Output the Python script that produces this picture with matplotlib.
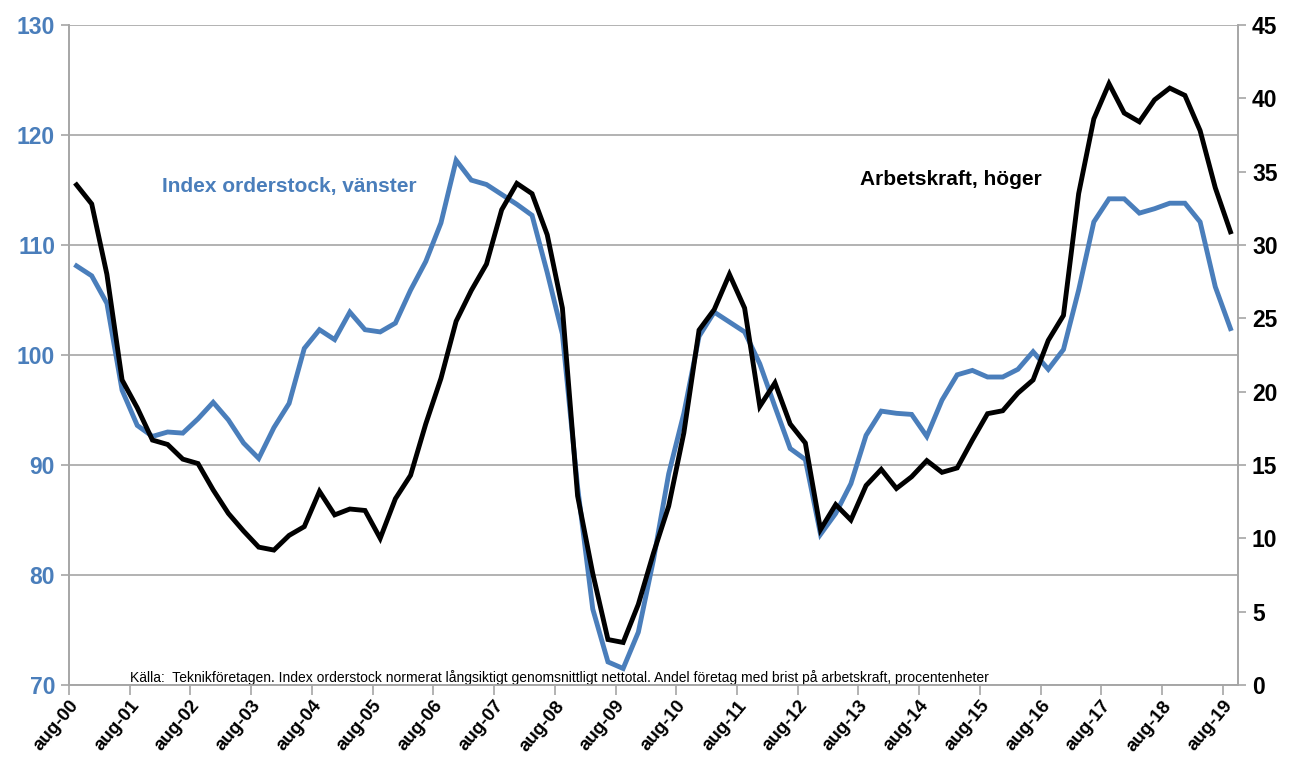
import matplotlib
matplotlib.use("Agg")
import matplotlib.pyplot as plt
import numpy as np

plt.rcParams['font.family'] = ['Liberation Sans', 'DejaVu Sans']

# kvartalsdata aug-00 .. aug-19
orderstock = [108.1, 107.2, 104.7, 96.8, 93.6, 92.6, 93.0, 92.9, 94.2, 95.7, 94.1, 92.0, 90.6,
              93.4, 95.6, 100.6, 102.3, 101.4, 103.9, 102.3, 102.1, 102.9, 105.9, 108.5, 112.0, 117.7,
              115.9, 115.5, 114.6, 113.7, 112.7, 107.5, 101.9, 88.0, 76.9, 72.1, 71.5, 74.8,
              81.4, 89.2, 94.7, 101.7, 103.9, 103.0, 102.1, 99.2, 95.3, 91.5, 90.5, 83.7, 85.6,
              88.3, 92.7, 94.9, 94.7, 94.6, 92.6, 95.9, 98.2, 98.6, 98.0, 98.0, 98.7, 100.3,
              98.7, 100.5, 105.9, 112.1, 114.2, 114.2, 112.9, 113.3, 113.8, 113.8, 112.1, 106.2, 102.4]
arbetskraft = [34.1, 32.8, 28.0, 20.8, 18.9, 16.7, 16.4, 15.4, 15.1, 13.3, 11.7, 10.5, 9.4,
               9.2, 10.2, 10.8, 13.2, 11.6, 12.0, 11.9, 10.0, 12.7, 14.3, 17.8, 20.9, 24.8,
               26.9, 28.7, 32.4, 34.2, 33.5, 30.7, 25.7, 12.9, 7.6, 3.1, 2.9, 5.5,
               9.0, 12.2, 17.2, 24.2, 25.6, 28.0, 25.7, 19.0, 20.6, 17.8, 16.5, 10.6, 12.3,
               11.25, 13.6, 14.7, 13.4, 14.2, 15.3, 14.5, 14.8, 16.7, 18.5, 18.7, 19.9, 20.8,
               23.5, 25.2, 33.5, 38.6, 41.0, 39.0, 38.4, 39.9, 40.7, 40.2, 37.8, 33.9, 30.9]
year_labels = ["aug-%02d" % y for y in range(0, 20)]

blue = '#4A7EBB'
grid_c = '#A6A6A6'

fig = plt.figure(figsize=(12.91, 7.58), dpi=100)
ax = fig.add_axes([0.0534, 0.0963, 0.9056, 0.8707])
ax2 = ax.twinx()

x = np.arange(len(orderstock))
ax.plot(x, orderstock, color=blue, lw=3.5, solid_joinstyle='miter', zorder=3)
ax2.plot(x, arbetskraft, color='black', lw=3.5, solid_joinstyle='miter', zorder=3)

ax.set_xlim(-0.5, len(orderstock) - 0.5)
ax.set_ylim(70, 130)
ax2.set_ylim(0, 45)
ax.set_yticks(range(70, 131, 10))
ax2.set_yticks(range(0, 46, 5))
ax.yaxis.grid(True, color=grid_c, lw=1.2)
ax.set_axisbelow(True)

ax.set_xticks(np.arange(len(year_labels)) * 4 - 0.5)
ax.set_xticklabels(year_labels, rotation=50, ha='right', va='top',
                   rotation_mode='anchor', fontsize=13.5, fontweight='bold')

for a in (ax, ax2):
    a.spines['top'].set_visible(False)
    for s in ('left', 'right', 'bottom'):
        a.spines[s].set_color(grid_c)
        a.spines[s].set_linewidth(1.2)
ax.tick_params(axis='x', length=7, color=grid_c, width=1.2, pad=2)
ax.tick_params(axis='y', length=6, color=grid_c, width=1.2, labelsize=16.5,
               labelcolor=blue, pad=4)
ax2.tick_params(axis='y', length=6, color=grid_c, width=1.2, labelsize=16.5, pad=4)
for lab in ax.get_yticklabels() + ax2.get_yticklabels():
    lab.set_fontweight('bold')

ax.text(0.080, 0.755, "Index orderstock, vänster", transform=ax.transAxes,
        color=blue, fontsize=15, fontweight='bold', va='center', ha='left')
ax.text(0.677, 0.766, "Arbetskraft, höger", transform=ax.transAxes,
        color='black', fontsize=15, fontweight='bold', va='center', ha='left')
ax.text(0.052, 0.0, "Källa:  Teknikföretagen. Index orderstock normerat långsiktigt genomsnittligt "
        "nettotal. Andel företag med brist på arbetskraft, procentenheter",
        transform=ax.transAxes, fontsize=10, va='bottom', ha='left')

fig.savefig('out.png', dpi=100)
